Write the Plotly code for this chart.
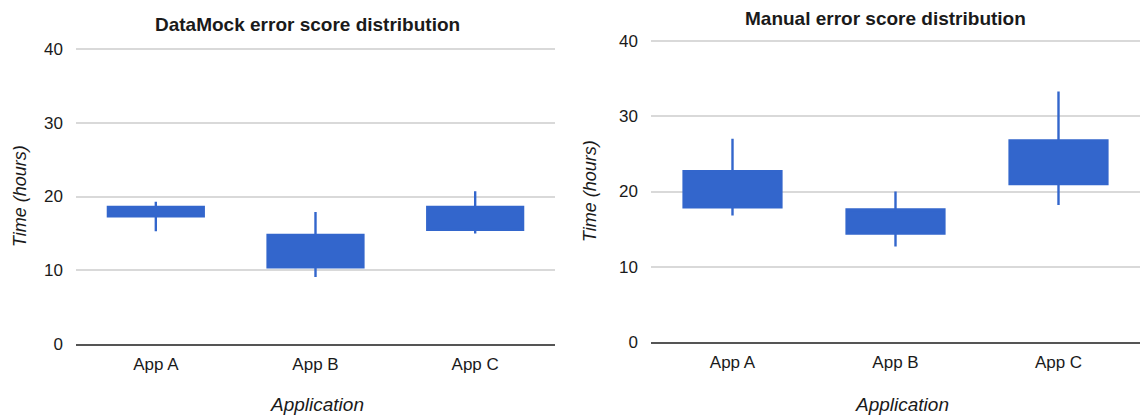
import plotly.graph_objects as go

apps = ["App A", "App B", "App C"]

# DataMock error score distribution
dm_low = [15.3, 9.1, 15.0]
dm_open = [17.3, 10.4, 15.5]
dm_close = [18.6, 14.8, 18.6]
dm_high = [19.3, 17.9, 20.7]

# Manual error score distribution
man_low = [16.8, 12.7, 18.2]
man_open = [17.9, 14.4, 21.0]
man_close = [22.7, 17.6, 26.8]
man_high = [27.0, 20.0, 33.3]

y_ticks = [0, 10, 20, 30, 40]

BLUE = "#3366cc"
FONT = "Liberation Sans, Arial, sans-serif"
TXT = "#1a1a1a"

fig = go.Figure()


def add_candle(o, h, l, c, xa, ya):
    fig.add_trace(go.Candlestick(
        x=apps, open=o, high=h, low=l, close=c,
        xaxis=xa, yaxis=ya,
        increasing=dict(fillcolor=BLUE, line=dict(color=BLUE, width=2.4)),
        decreasing=dict(fillcolor=BLUE, line=dict(color=BLUE, width=2.4)),
        showlegend=False, hoverinfo="skip",
    ))


add_candle(dm_open, dm_high, dm_low, dm_close, "x", "y")
add_candle(man_open, man_high, man_low, man_close, "x2", "y2")

W, H = 1140, 415
YMAX = 40.6


def xd(a, b):
    return [a / W, b / W]


def yd(top40, bottom0):
    # top40: pixel of value 40, bottom0: pixel of value 0
    per = (bottom0 - top40) / 40.0
    top = top40 - (YMAX - 40) * per
    return [1 - bottom0 / H, 1 - top / H]


xcommon = dict(
    type="category", range=[-0.5, 2.5], showgrid=False, zeroline=False,
    showline=True, linecolor="#555555", linewidth=2, ticks="",
    tickfont=dict(family=FONT, size=17, color=TXT), automargin=False,
    ticklabelstandoff=4, rangeslider=dict(visible=False), fixedrange=True,
)
ycommon = dict(
    range=[0, YMAX], tickvals=y_ticks, showgrid=True, gridcolor="#d9d9d9",
    gridwidth=2, zeroline=False, showline=False, ticks="", automargin=False,
    tickfont=dict(family=FONT, size=17, color=TXT),
    ticklabelstandoff=12, fixedrange=True,
)

fig.update_layout(
    width=W, height=H,
    margin=dict(l=0, r=0, t=0, b=0, autoexpand=False),
    paper_bgcolor="white", plot_bgcolor="white",
    boxgap=0.4, boxgroupgap=0,
    xaxis=dict(domain=xd(76, 555), anchor="y", **xcommon),
    yaxis=dict(domain=yd(49, 344), anchor="x", **ycommon),
    xaxis2=dict(domain=xd(651, 1140), anchor="y2", **xcommon),
    yaxis2=dict(domain=yd(41, 342), anchor="x2", **ycommon),
    font=dict(family=FONT, color=TXT),
)

ann = []
# titles
ann.append(dict(text="<b>DataMock error score distribution</b>", x=307, y=25,
                font=dict(size=19)))
ann.append(dict(text="<b>Manual error score distribution</b>", x=885, y=18,
                font=dict(size=19)))
# y axis titles
ann.append(dict(text="<i>Time (hours)</i>", x=20, y=196, textangle=-90,
                font=dict(size=18)))
ann.append(dict(text="<i>Time (hours)</i>", x=590, y=191, textangle=-90,
                font=dict(size=18)))
# x axis titles
ann.append(dict(text="<i>Application</i>", x=317, y=404, font=dict(size=19)))
ann.append(dict(text="<i>Application</i>", x=902, y=404, font=dict(size=19)))

for a in ann:
    fig.add_annotation(
        text=a["text"], x=a["x"] / W, y=1 - a["y"] / H,
        xref="paper", yref="paper", xanchor="center", yanchor="middle",
        showarrow=False, textangle=a.get("textangle", 0),
        font=dict(family=FONT, color=TXT, size=a["font"]["size"]),
    )

fig.write_html(
    "out.html",
    config={"displayModeBar": False},
    post_script="document.body.style.margin='0';document.body.style.overflow='hidden';",
)
